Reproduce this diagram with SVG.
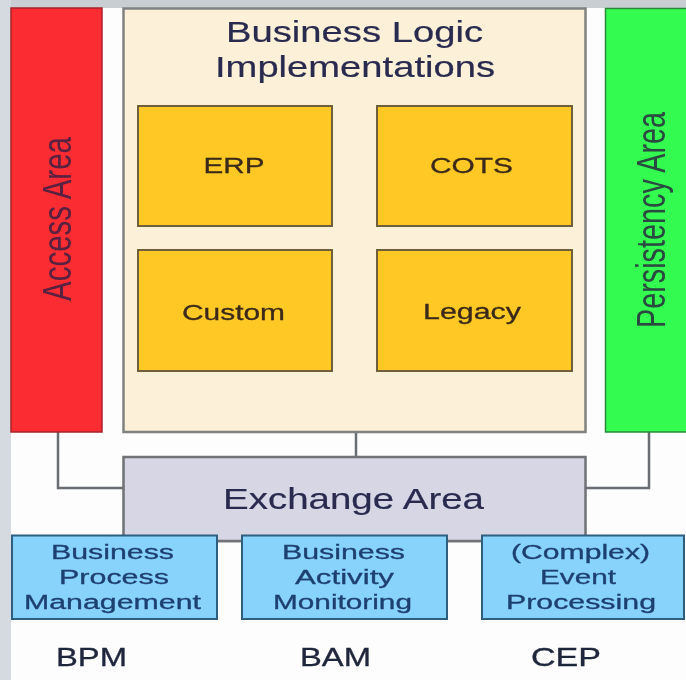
<svg xmlns="http://www.w3.org/2000/svg" width="686" height="680" viewBox="0 0 686 680">
<defs>
<filter id="soft" x="-2%" y="-2%" width="104%" height="104%"><feGaussianBlur stdDeviation="0.5"/></filter>
</defs>
<style>
text{font-family:"Liberation Sans",Arial,sans-serif;text-anchor:middle;fill:#2a2c50;filter:url(#soft)}
.inner{fill:#ffc825;stroke:#6f5f3a;stroke-width:2}
.inner-t{font-size:22px;fill:#3a2a1a;stroke:#3a2a1a;stroke-width:.3}
.blue{fill:#87d3fb;stroke:#2f5f80;stroke-width:2}
.blue-t{font-size:20px;fill:#1f3f70;stroke:#1f3f70;stroke-width:.3}
.abbr{font-size:25px;fill:#20283c;stroke:#20283c;stroke-width:.3}
.big{font-size:29px;stroke:#2a2c50;stroke-width:.2}
.side{font-size:41px}
.conn{fill:none;stroke:#6a6e72;stroke-width:2.5}
</style>
<rect width="686" height="680" fill="#fdfdfd"/>
<g id="backdrop">
<rect x="0" y="0" width="686" height="8" fill="#c9ced2"/>
<rect x="0" y="0" width="11" height="680" fill="#d4dae0"/>
</g>
<g id="connectors">
<path class="conn" d="M58 432V488H124"/>
<path class="conn" d="M356 432V457"/>
<path class="conn" d="M649 432V488H586"/>
<path class="conn" d="M217 541H242"/>
<path class="conn" d="M447 541H482"/>
</g>
<g id="access-area">
<rect x="11" y="8" width="91" height="424" fill="#fb2d33" stroke="#a8222c" stroke-width="1.5"/>
<text class="side" transform="translate(71 219) rotate(-90)" textLength="164" lengthAdjust="spacingAndGlyphs" style="fill:#5a2040">Access Area</text>
</g>
<g id="business-logic">
<rect x="123.500" y="8.500" width="462" height="423.500" fill="#fcf1d8" stroke="#7f8280" stroke-width="2.500"/>
<text class="big" x="354.500" y="42" textLength="257" lengthAdjust="spacingAndGlyphs">Business Logic</text>
<text class="big" x="355" y="77" textLength="280" lengthAdjust="spacingAndGlyphs">Implementations</text>
</g>
<g id="erp">
<rect class="inner" x="138" y="106" width="194" height="120"/>
<text class="inner-t" x="234" y="173" textLength="61" lengthAdjust="spacingAndGlyphs">ERP</text>
</g>
<g id="cots">
<rect class="inner" x="377" y="106" width="195" height="120"/>
<text class="inner-t" x="471.500" y="173" textLength="83" lengthAdjust="spacingAndGlyphs">COTS</text>
</g>
<g id="custom">
<rect class="inner" x="138" y="250" width="194" height="121"/>
<text class="inner-t" x="233.500" y="320" textLength="103" lengthAdjust="spacingAndGlyphs">Custom</text>
</g>
<g id="legacy">
<rect class="inner" x="377" y="250" width="195" height="121"/>
<text class="inner-t" x="472" y="319" textLength="98" lengthAdjust="spacingAndGlyphs">Legacy</text>
</g>
<g id="persistency-area">
<rect x="605.500" y="8.500" width="82" height="423.500" fill="#33fb4f" stroke="#2a8a3a" stroke-width="1.500"/>
<text class="side" transform="translate(665 220) rotate(-90)" textLength="216" lengthAdjust="spacingAndGlyphs" style="fill:#2a4a40">Persistency Area</text>
</g>
<g id="exchange-area">
<rect x="123.500" y="457" width="462" height="84" fill="#d6d6e4" stroke="#6f7276" stroke-width="2.500"/>
<text class="big" x="353.500" y="509" textLength="261" lengthAdjust="spacingAndGlyphs">Exchange Area</text>
</g>
<g id="bpm">
<rect class="blue" x="12" y="535.500" width="205" height="83.500"/>
<text class="blue-t" x="112.500" y="559" textLength="123" lengthAdjust="spacingAndGlyphs">Business</text>
<text class="blue-t" x="114" y="584" textLength="110" lengthAdjust="spacingAndGlyphs">Process</text>
<text class="blue-t" x="112.500" y="609" textLength="177" lengthAdjust="spacingAndGlyphs">Management</text>
</g>
<g id="bam">
<rect class="blue" x="242" y="535.500" width="205" height="83.500"/>
<text class="blue-t" x="343.500" y="559" textLength="123" lengthAdjust="spacingAndGlyphs">Business</text>
<text class="blue-t" x="344.500" y="584" textLength="99" lengthAdjust="spacingAndGlyphs">Activity</text>
<text class="blue-t" x="342.500" y="609" textLength="139" lengthAdjust="spacingAndGlyphs">Monitoring</text>
</g>
<g id="cep">
<rect class="blue" x="482" y="535.500" width="202" height="83.500"/>
<text class="blue-t" x="580.500" y="559" textLength="139" lengthAdjust="spacingAndGlyphs">(Complex)</text>
<text class="blue-t" x="578" y="584" textLength="76" lengthAdjust="spacingAndGlyphs">Event</text>
<text class="blue-t" x="581" y="609" textLength="150" lengthAdjust="spacingAndGlyphs">Processing</text>
</g>
<g id="labels">
<text class="abbr" x="91.500" y="666" textLength="71" lengthAdjust="spacingAndGlyphs">BPM</text>
<text class="abbr" x="335.500" y="666" textLength="71" lengthAdjust="spacingAndGlyphs">BAM</text>
<text class="abbr" x="566" y="666" textLength="70" lengthAdjust="spacingAndGlyphs">CEP</text>
</g>
</svg>
